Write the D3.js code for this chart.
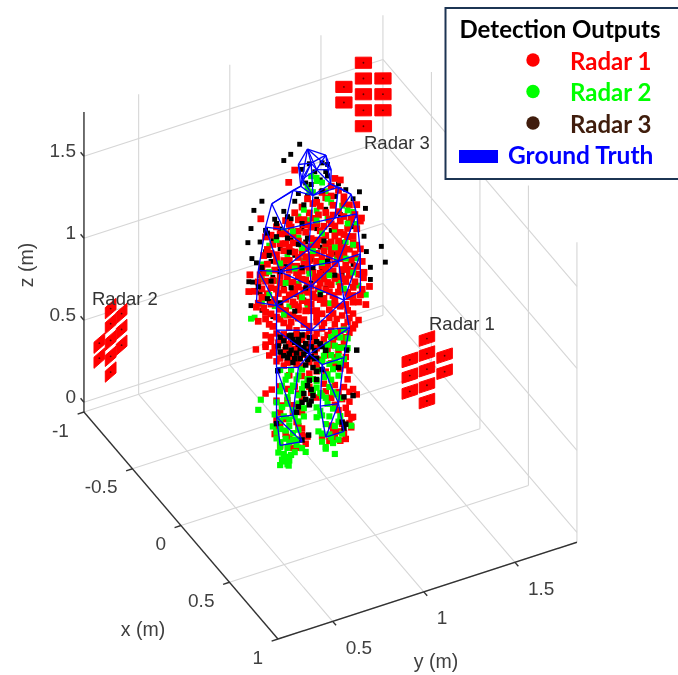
<!DOCTYPE html>
<html>
<head>
<meta charset="utf-8">
<script src="https://cdnjs.cloudflare.com/ajax/libs/d3/7.8.5/d3.min.js"></script>
<style>
  html, body { margin: 0; padding: 0; background: #fff; }
  svg { display: block; }
</style>
</head>
<body>
<div id="chart"></div>
<script>
const bodyX = -0.105;

const radar1Upper = [[1.10,1.66],[1.13,1.64],[1.08,1.62],[1.03,1.6],[1.12,1.58],[.98,1.55],[.92,1.55],[1.05,1.56],[1.15,1.53],[.88,1.53],[.96,1.5],[1.02,1.52],[1.09,1.5],[1.18,1.47],[.83,1.5],[.9,1.48],[.98,1.46],[1.05,1.47],[1.12,1.45],[.78,1.48],[.86,1.45],[.93,1.44],
  [.72,1.44],[.8,1.43],[1.0,1.42],[1.07,1.42],[1.15,1.41],[1.21,1.4],[.87,1.4],[.94,1.39],[.76,1.38],[1.02,1.37],[1.1,1.37],[1.18,1.36],[.83,1.36],[.9,1.35],[.97,1.34],[.71,1.33],[1.05,1.33],[1.13,1.32],[1.22,1.31],[.78,1.31],[.86,1.3],[.94,1.29],[1.0,1.29],[1.08,1.28],[1.17,1.28],[.73,1.27],[.82,1.26],[.9,1.25],[.97,1.24],[1.04,1.24],[1.12,1.23],[1.2,1.23],[.69,1.22],[.77,1.22],[.86,1.21],[.93,1.2],
  [1.0,1.19],[1.07,1.19],[1.15,1.18],[1.24,1.18],[.72,1.17],[.8,1.17],[.89,1.16],[.96,1.15],[1.03,1.15],[1.1,1.14],[1.19,1.13],[.66,1.13],[.75,1.12],[.84,1.12],[.92,1.11],[.99,1.1],[1.06,1.1],[1.14,1.09],[1.22,1.08],[.7,1.08],[.79,1.07],[.87,1.07],[.95,1.06],[1.02,1.05],[1.1,1.05],[1.18,1.04],[1.26,1.03],[.67,1.03],[.75,1.02],[.83,1.02],[.91,1.01],[.98,1.0],[1.05,1.0],[1.13,.99],[1.21,.99],[.72,.98],[.8,.97],[.88,.97],[.95,.96],[1.02,.95],[1.09,.95],[1.17,.94],[1.25,.93],[.68,.94],
  [.95,1.43],[1.08,1.39],[.85,1.33],[1.0,1.32],[1.15,1.3],[.92,1.27],[1.08,1.24],[.8,1.24],[1.18,1.2],[.95,1.18],[.85,1.19],[1.05,1.13],[.9,1.14],[1.16,1.11],[.78,1.1],[1.0,1.08],[.93,1.04],[1.08,1.02],[.85,1.04],[1.16,1.01],[.98,.98],[1.12,.96],[.9,.93],[1.04,.92],[1.2,.91],[.78,.93],[.84,.92],[.97,.9],[1.1,.89],[1.16,.87],[1.03,.86],[.9,.88],[.82,.88],[.74,.9],[1.23,.86],[1.27,.83],
  [.88,1.79],[.847,1.727],[.694,1.56],[.634,1.24],[.628,1.14],[1.22,1.457],[1.246,1.366],[1.29,.933],[1.257,.998],
  [.95,1.59],[1.0,1.55],[1.08,1.56],[1.15,1.49],[.85,1.47],[.93,1.47],[1.01,1.47],[1.09,1.44],[.75,1.44],[.83,1.42],[.9,1.41],[.97,1.41],[1.04,1.39],[1.13,1.39],[1.19,1.38],
  [.73,1.36],[.8,1.37],[.87,1.35],[.92,1.32],[1.03,1.31],[1.1,1.31],[1.17,1.33],[1.24,1.35],[.75,1.33],[.82,1.32],[.88,1.29],[.97,1.29],[1.05,1.28],[1.12,1.27],[1.2,1.27],[.7,1.26],[.78,1.27],[.85,1.25],[.94,1.24],[1.0,1.24],[1.08,1.21],[1.15,1.22],[1.22,1.21],[.72,1.22],[.81,1.21],[.89,1.2],[.96,1.21],[1.03,1.2],[1.12,1.19],
  [.68,1.18],[.76,1.16],[.84,1.15],[.92,1.16],[.98,1.13],[1.06,1.15],[1.13,1.16],[1.21,1.16],[.7,1.13],[.8,1.13],[.87,1.11],[.94,1.1],[1.02,1.11],[1.09,1.1],[1.17,1.08],[1.25,1.1],[.73,1.09],[.82,1.08],[.9,1.07],[.97,1.05],[1.04,1.07],[1.13,1.05],[1.2,1.06],[.68,1.05],[.77,1.04],[.88,1.04],[.95,1.02],[1.01,1.02],[1.06,1.04],[1.15,1.03],[1.23,1.03],
  [.71,1.01],[.8,1.0],[.87,.99],[.92,.98],[1.0,.97],[1.07,.98],[1.14,.97],[1.2,.96],[.75,.96],[.83,.95],[.9,.95],[.97,.94],[1.04,.95],[1.1,.92],[1.18,.91],[1.24,.9],[.72,.94],[.8,.91],[.87,.91],[.94,.91],[1.0,.89],[1.07,.87],[1.13,.87],[1.2,.87],[.76,.88],[.86,.87],[.93,.86],[1.0,.85],[1.09,.84],[1.17,.83]];

const radar1Lower = [[.72,.84],[.78,.83],[.85,.84],[.93,.83],[1.0,.82],[1.07,.82],[1.14,.81],[1.2,.8],[.75,.79],[.82,.79],[.89,.78],[.96,.78],[1.03,.77],[1.1,.77],[1.17,.76],[1.23,.75],[.77,.75],[.85,.74],[.92,.74],[.99,.73],[1.06,.72],[1.13,.72],[1.2,.71],[.74,.71],[.81,.7],[.88,.7],[.95,.69],[1.02,.68],[1.09,.68],[1.16,.67],[.78,.66],[.85,.66],[.92,.65],[.99,.64],[1.06,.63],[1.13,.62],[.82,.62],[.89,.6],[.96,.59],[1.03,.58],[1.1,.57],[1.16,.55],
  [.85,.55],[.92,.52],[1.0,.52],[1.05,.5],[1.13,.49],[1.18,.46],[.8,.5],[.88,.47],[.96,.44],[1.04,.43],[1.1,.4],[1.15,.37],[1.2,.34],[.78,.42],[.84,.4],[.92,.38],[1.0,.36],[1.08,.33],[1.14,.3],[1.18,.27],[.8,.34],[.87,.32],[.92,.3],
  [.8,.27],[.77,.22],[.83,.2],[.9,.22],[.92,.16],[.88,.14],[.8,.14],[.94,.1],[.9,.09],[1.12,.24],[1.17,.2],[1.08,.16],[1.14,.15],[1.19,.11],[1.1,.08],[1.16,.05],[1.07,.07],[1.12,.11],
  [.667,.773],[.72,.485],[.754,.497],[1.191,.169],[.72,.784],
  [.75,.82],[.82,.81],[.89,.81],[.96,.81],[1.04,.8],[1.11,.8],[1.18,.78],[.72,.77],[.79,.77],[.86,.76],[.94,.76],[1.0,.75],[1.08,.74],[1.15,.74],[1.21,.73],[.76,.72],[.83,.71],[.9,.7],[.97,.7],[1.04,.7],[1.11,.69],[1.18,.69],[.8,.67],[.87,.67],[.94,.67],[1.0,.66],[1.08,.65],[1.15,.64],[.84,.63],[.9,.63],[.96,.61],[1.05,.6],[1.12,.6],[.92,.58],[1.0,.56],[1.08,.54],[.96,.52],[1.1,.52],[1.16,.5],
  [.84,.47],[.9,.42],[.97,.4],[1.05,.38],[1.17,.41],[1.12,.35],[.81,.38],[.87,.36],[1.18,.33],[1.22,.3],[1.1,.28],[1.16,.24],[1.2,.17],[.78,.3],[.83,.29],[.89,.25],[.78,.25],[.85,.17],[.92,.2],[.95,.14],[.87,.1],[1.13,.05],[1.09,.12],[1.15,.09],[1.18,.14],[1.03,.11]];

const radar2Upper = [[.97,1.72],[1.0,1.68],[1.03,1.66],[.95,1.66],[1.05,1.6],[.98,1.62],[1.08,1.52],[1.0,1.5],[.9,1.5],[1.14,1.48],[.95,1.46],[1.2,1.42],[.82,1.44],[1.06,1.43],[.74,1.38],[.9,1.37],[1.1,1.34],[1.22,1.34],[.98,1.31],[.7,1.28],[.84,1.28],[1.05,1.26],[1.16,1.25],[.93,1.22],[.7,1.19],[.78,1.15],[1.11,1.17],[1.22,1.13],[.9,1.09],[1.03,1.07],[.7,1.05],[.77,1.0],[1.12,1.02],[1.23,.96],[.85,.97],[.95,.93],[1.07,.91],[.66,.97],[1.27,.89],[.64,.97]];

// these sit on top of the red in the torso
const radar2Top = [[1.0,1.7],[.96,1.63],[1.06,1.55],[.93,1.53],[1.17,1.44],[1.0,1.44],[.87,1.42],[.78,1.4],[1.03,1.35],[1.17,1.36],[.92,1.3],[.8,1.25],[.98,1.26],[1.1,1.24],[1.2,1.22],[.74,1.22],[.88,1.19],[1.03,1.17],[1.16,1.15],[.83,1.12],[.96,1.13],[1.07,1.08],[.74,1.08],[1.2,1.05],[.92,1.0],[1.02,.99],[1.15,.97],[.82,.93]];

const radar2Lower = [[1.08,.7],[1.13,.68],[1.17,.66],[1.1,.64],[1.05,.63],[1.15,.61],[1.08,.59],[1.12,.57],[1.03,.57],[1.07,.54],[1.15,.54],[1.01,.52],[1.09,.5],[.98,.48],[1.04,.47],[1.12,.45],[1.0,.42],[1.07,.4],[1.03,.36],[1.11,.34],[1.06,.3],[1.0,.3],[1.09,.26],[1.03,.24],[1.13,.2],[1.05,.18],[1.1,.15],[1.01,.15],[1.07,.11],[1.14,.09],[1.03,.08],[1.09,.05],[1.05,.04],[1.1,-.02],[1.05,.03],[1.19,.12],
  [.8,.6],[.86,.58],[.92,.56],[.83,.53],[.89,.51],[.95,.49],[.8,.47],[.86,.45],[.92,.44],[.98,.41],[.78,.41],[.84,.38],[.9,.36],[.96,.34],[.77,.34],[.82,.31],[.88,.29],[.93,.27],[.76,.27],[.8,.24],[.85,.24],[.9,.2],[.78,.19],[.83,.17],[.87,.15],[.8,.13],[.84,.11],[.89,.11],[.92,.08],[.82,.08],[.86,.06],[.81,.05],[.85,.03],[.8,.02],[.847,0],[.84,.04],[.94,.05],[.694,.457],[.68,.4],
  [1.1,.72],[1.15,.72],[1.06,.66],[1.12,.62],[1.17,.6],[1.04,.6],[1.1,.55],[1.13,.52],[1.06,.48],[1.0,.46],[1.08,.44],[1.02,.38],[1.09,.36],[1.05,.34],[1.13,.31],[1.02,.27],[1.07,.22],[1.12,.17],[1.03,.13],[1.08,.09],[1.12,.06],[1.0,.24],[.84,.55],[.9,.53],[.81,.5],[.87,.48],[.93,.47],[.84,.42],[.9,.41],[.81,.37],[.87,.33],[.93,.32],[.8,.29],[.85,.28],[.9,.25],[.78,.23],[.83,.22],[.87,.19],[.8,.16],[.85,.14],[.9,.14],[.83,.06],[.88,.07],[.79,.1],[.84,.01],[.82,.035]];

const radar3Upper = [[.96,1.8],[1.03,1.78],[.92,1.78],[1.06,1.76],[1.05,1.72],[.99,1.74],[1.02,1.68],[.94,1.69],[.9,1.64],[.95,1.61],[.88,1.6],[1.0,1.57],[.82,1.56],[1.1,1.55],[1.16,1.57],[.77,1.53],[.86,1.5],[1.05,1.49],[1.2,1.5],[.72,1.48],[.8,1.46],[.92,1.42],[1.13,1.43],[.69,1.42],[.76,1.41],[.86,1.38],[1.0,1.39],
  [.72,1.35],[.8,1.34],[.94,1.33],[1.08,1.35],[1.2,1.33],[.67,1.3],[.75,1.28],[.88,1.27],[1.02,1.27],[1.13,1.26],[1.26,1.25],[.7,1.24],[.83,1.22],[.97,1.21],[1.1,1.2],[.65,1.19],[.76,1.18],[.9,1.13],[1.03,1.12],[1.2,1.1],[.69,1.11],[.82,1.09],[.97,1.07],[1.14,1.06],[.64,1.05],[.74,1.04],[.88,1.03],[1.05,1.01],[1.24,1.02],[.7,1.0],[.82,.96],[.93,.98],[1.1,.93],[.76,.94],
  [.907,1.938],[.858,1.894],[.82,1.87],[.70,1.665],[.656,1.625],[.64,1.52],[.623,1.44],[.645,1.335],[1.235,1.53],[1.268,1.417],[1.355,1.154],[1.377,1.05],[1.273,1.152],[1.295,1.048],[1.295,.974],[1.12,1.62],[.628,1.2]];

const radar3Top = [[.78,1.42],[.95,1.35],[.74,1.32],[.85,1.3],[1.04,1.3],[.7,1.26],[.8,1.2],[.92,1.18],[1.06,1.17],[.68,1.15],[.86,1.08],[.94,1.05],[1.1,1.07],[.73,1.06],[.8,1.01],[1.02,.98],[.88,.93],[.75,1.16],[.9,1.33],[.84,1.39],[.98,1.16],[.92,1.45],[1.03,1.61],[.97,1.67],[.93,1.56],[1.06,1.69],[.78,1.5],[.84,1.52],[.73,1.46]];

const radar3Lower = [[.8,.8],[.85,.79],[.79,.75],[.87,.76],[.92,.77],[.83,.73],[.9,.72],[.96,.74],[.8,.71],[.86,.7],[.93,.69],[1.0,.7],[.89,.67],[.95,.66],[.84,.66],[.99,.65],[.91,.63],[.97,.62],[.87,.62],[1.03,.66],[1.0,.6],[.94,.58],[.98,.55],
  [.95,.45],[.97,.42],[.93,.41],[.94,.37],[.98,.38],[.9,.34],[.96,.33],[.89,.31],[1.0,.47],[1.03,.52],[1.22,.57],[1.165,.59],[1.2,.30],[1.12,.5],[.787,.60],[1.15,.31],[1.16,.14],[.956,.147],[.92,.13],[.78,.28],[1.15,.12],[1.14,.16],
  [.82,.77],[.88,.74],[.94,.71],[.85,.68],[.91,.69],[.97,.68],[.82,.68],[.88,.64],[.93,.65],[.99,.6],[.95,.61],[.86,.79],[.9,.75],[1.02,.68],[1.05,.63],[1.0,.52],[.96,.48],[.92,.36],[.97,.35]];

// ground truth mesh, [y, z] on the same plane
const meshNodes = [[.95,1.893],[1.05,1.82],[.9,1.817],[.97,1.8],[1.0,1.75],[.92,1.72],[.913,1.68],[1.077,1.634],[1.08,1.72],[.98,1.6],
  [.754,1.63],[.87,1.67],[1.19,1.53],[1.12,1.6],[.956,1.28],[.72,1.5],[.68,1.25],[.67,1.06],[1.22,1.4],[1.24,1.15],[1.24,.92],
  [.8,1.2],[1.12,1.15],[.78,1.0],[1.15,.9],[.97,1.05],[.78,.85],[1.18,.72],[.97,.78],[.96,.64],[.78,.62],[.9,.58],
  [.78,.32],[.87,.3],[.8,.14],[.92,.12],[1.15,.55],[1.03,.55],[1.12,.28],[1.02,.3],[1.15,.1],[1.05,.1],[.82,1.45],[1.1,1.42]];
const meshEdges = [[0,1],[0,2],[0,3],[0,4],[1,3],[1,4],[1,8],[2,3],[2,5],[3,4],[3,5],[4,5],[4,8],[5,6],[8,7],[4,7],[5,9],[6,9],[7,9],[6,11],[2,6],[1,7],[0,5],[0,8],[3,6],[3,9],
  [11,10],[6,10],[7,13],[13,12],[7,12],[9,13],[9,11],[10,15],[10,42],[11,42],[15,42],[15,16],[16,17],[15,21],[16,21],[17,23],[16,23],
  [12,18],[12,43],[13,43],[18,43],[18,19],[19,20],[18,22],[19,22],[20,24],[19,24],[42,14],[43,14],[9,14],[42,43],[14,21],[14,22],[14,25],
  [21,22],[21,23],[22,24],[21,25],[22,25],[23,25],[24,25],[23,26],[24,27],[25,28],[23,28],[24,28],[26,28],[27,28],[26,29],[27,29],[28,29],
  [26,30],[29,31],[30,31],[30,32],[31,33],[30,33],[32,33],[32,34],[33,35],[32,35],[34,35],[27,36],[29,37],[36,37],[36,38],[37,39],[37,38],[38,39],[38,40],[39,41],[38,41],[40,41]];

// panel centres of the three arrays, [x, y, z]
const radar1Panels = [[.6,1.23,1.125],[.6,1.23,1.033],[.6,1.23,.938],[.6,1.23,.84],[.6,1.23,.744],[.6,1.327,.985],[.6,1.327,.888],[.6,1.136,1.029],[.6,1.136,.933],[.6,1.136,.836]];
const radar2Panels = [[-.8,.24,.695],[-.8,.24,.603],[-.8,.24,.501],[-.8,.24,.404],[-.8,.24,.308],[-.8,.3,.643],[-.8,.3,.546],[-.8,.3,.45],[-.8,.178,.506],[-.8,.178,.415]];
const radar3Panels = [[-.5,1.467,1.96],[-.5,1.467,1.864],[-.5,1.467,1.768],[-.5,1.467,1.67],[-.5,1.467,1.573],[-.4566,1.551,1.864],[-.4566,1.551,1.768],[-.4566,1.551,1.67],[-.5434,1.383,1.813],[-.5434,1.383,1.718]];

const xTicks = [-1, -0.5, 0, 0.5, 1];
const yTicks = [0.5, 1, 1.5];
const zTicks = [0, 0.5, 1, 1.5];
const legendSeries = ["Radar 1", "Radar 2", "Radar 3"];
const legendColors = ["#ff0000", "#00ff00", "#3f1f0a"];

const width = 678, height = 675;
const xMin = -1, xMax = 1, yMin = 0.2, yMax = 1.84, zMin = -0.06, zMax = 1.77;

const svg = d3.select("#chart").append("svg")
    .attr("width", width)
    .attr("height", height)
    .style("font-family", "'Liberation Sans', Arial, sans-serif");

const defs = svg.append("defs");
const blurFilter = (id, amount) => defs.append("filter").attr("id", id)
    .attr("filterUnits", "userSpaceOnUse")
    .attr("x", 0).attr("y", 0).attr("width", width).attr("height", height)
    .append("feGaussianBlur").attr("stdDeviation", amount);
blurFilter("soft", 0.75);
blurFilter("softLegend", 0.35);

// oblique view, each data axis gets its own pair of scales
const pxX = d3.scaleLinear().domain([-1, 1]).range([47.5, 241.5]);
const pyX = d3.scaleLinear().domain([-1, 1]).range([414, 641]);
const pxY = d3.scaleLinear().domain([0, 1]).range([0, 182.3]);
const pyY = d3.scaleLinear().domain([0, 1]).range([0, -59]);
const pyZ = d3.scaleLinear().domain([0, 1]).range([0, -164]);

const project = ([x, y, z]) => [pxX(x) + pxY(y), pyX(x) + pyY(y) + pyZ(z)];
const line3 = d3.line().x(d => project(d)[0]).y(d => project(d)[1]);

const plot = svg.append("g").attr("filter", "url(#soft)");

// grid
const gridSegs = [];
zTicks.forEach(z => {
    gridSegs.push([[xMin, yMin, z], [xMin, yMax, z]]);
    gridSegs.push([[xMin, yMax, z], [xMax, yMax, z]]);
});
xTicks.forEach(x => {
    gridSegs.push([[x, yMin, zMin], [x, yMax, zMin]]);
    gridSegs.push([[x, yMax, zMin], [x, yMax, zMax]]);
});
yTicks.forEach(y => {
    gridSegs.push([[xMax, y, zMin], [xMin, y, zMin]]);
    gridSegs.push([[xMin, y, zMin], [xMin, y, zMax]]);
});
plot.append("g").selectAll("path")
    .data(gridSegs)
    .join("path")
    .attr("d", line3)
    .attr("fill", "none")
    .attr("stroke", "#d6d6d6")
    .attr("stroke-width", 1.1);

// axes
const axisSegs = [
    [[xMin, yMin, zMin], [xMin, yMin, zMax]],
    [[xMin, yMin, zMin], [xMax, yMin, zMin]],
    [[xMax, yMin, zMin], [xMax, yMax, zMin]]
];
xTicks.forEach(x => axisSegs.push([[x, yMin, zMin], [x, yMin - 0.035, zMin]]));
yTicks.forEach(y => axisSegs.push([[xMax, y, zMin], [xMax + 0.035, y, zMin]]));
zTicks.forEach(z => axisSegs.push([[xMin, yMin, z], [xMin - 0.035, yMin, z]]));
plot.append("g").selectAll("path")
    .data(axisSegs)
    .join("path")
    .attr("d", line3)
    .attr("fill", "none")
    .attr("stroke", "#333")
    .attr("stroke-width", 1.4);

const tickText = (sel, fmt) => sel
    .attr("font-size", 19)
    .attr("fill", "#404040")
    .attr("dominant-baseline", "central")
    .text(fmt);

plot.append("g").selectAll("text")
    .data(xTicks)
    .join("text")
    .attr("x", d => project([d, yMin, zMin])[0] - 15)
    .attr("y", d => project([d, yMin, zMin])[1] + 18)
    .attr("text-anchor", "end")
    .call(tickText, d => d);

plot.append("g").selectAll("text")
    .data(yTicks)
    .join("text")
    .attr("x", d => project([xMax, d, zMin])[0] + 13)
    .attr("y", d => project([xMax, d, zMin])[1] + 26)
    .attr("text-anchor", "start")
    .call(tickText, d => d);

plot.append("g").selectAll("text")
    .data(zTicks)
    .join("text")
    .attr("x", d => project([xMin, yMin, d])[0] - 8)
    .attr("y", d => project([xMin, yMin, d])[1] - 6)
    .attr("text-anchor", "end")
    .call(tickText, d => d);

const axisLabel = (txt, x, y, rot) => plot.append("text")
    .attr("transform", `translate(${x},${y}) rotate(${rot})`)
    .attr("text-anchor", "middle")
    .attr("dominant-baseline", "central")
    .attr("font-size", 19.5)
    .attr("fill", "#404040")
    .text(txt);
axisLabel("x (m)", 143, 629, 0);
axisLabel("y (m)", 436, 661, 0);
axisLabel("z (m)", 26, 265, -90);

// radar arrays, edge is the panel's long side in data units
const radars = [
    { name: "Radar 1", panels: radar1Panels, edge: [0, .085, 0], tall: .065, lx: 429, ly: 323 },
    { name: "Radar 2", panels: radar2Panels, edge: [-.04, .08, 0], tall: .068, lx: 92, ly: 298 },
    { name: "Radar 3", panels: radar3Panels, edge: [.036, .07, 0], tall: .068, lx: 364, ly: 142 }
];
radars.forEach(r => {
    const g = plot.append("g");
    const half = (c, sx, sz) => [c[0] + sx * r.edge[0] / 2, c[1] + sx * r.edge[1] / 2, c[2] + sz * r.tall / 2];
    g.selectAll("path")
        .data(r.panels)
        .join("path")
        .attr("d", c => line3([half(c, -1, -1), half(c, 1, -1), half(c, 1, 1), half(c, -1, 1), half(c, -1, -1)]))
        .attr("fill", "#ff0000")
        .attr("stroke", "#ff0000")
        .attr("stroke-width", 1)
        .attr("stroke-linejoin", "round");
    g.selectAll("circle")
        .data(r.panels)
        .join("circle")
        .attr("cx", c => project(c)[0])
        .attr("cy", c => project(c)[1])
        .attr("r", 0.9)
        .attr("fill", "#5a0000");
    plot.append("text")
        .attr("x", r.lx)
        .attr("y", r.ly)
        .attr("dominant-baseline", "central")
        .attr("font-size", 18.5)
        .attr("fill", "#333")
        .text(r.name);
});

// detections, drawn in the order they stack in the picture
const layers = [
    [radar3Upper, "#000000", 24],
    [radar2Upper, "#00ff00", 34],
    [radar1Upper, "#ff0000", 46],
    [radar2Top, "#00ff00", 34],
    [radar3Top, "#000000", 26],
    [radar1Lower, "#ff0000", 42],
    [radar2Lower, "#00ff00", 38],
    [radar3Lower, "#000000", 30]
];
layers.forEach(([pts, col, size]) => {
    const marker = d3.symbol().type(d3.symbolSquare).size(size);
    plot.append("g").selectAll("path")
        .data(pts)
        .join("path")
        .attr("d", marker)
        .attr("transform", d => {
            const p = project([bodyX, d[0], d[1]]);
            return `translate(${p[0]},${p[1]})`;
        })
        .attr("fill", col);
});

// ground truth
plot.append("g").selectAll("path")
    .data(meshEdges)
    .join("path")
    .attr("d", e => line3(e.map(i => [bodyX, meshNodes[i][0], meshNodes[i][1]])))
    .attr("fill", "none")
    .attr("stroke", "#0000ff")
    .attr("stroke-width", 1.3);

// legend
const legend = svg.append("g").attr("filter", "url(#softLegend)");
legend.append("rect")
    .attr("x", 445.5).attr("y", 8)
    .attr("width", 240).attr("height", 171)
    .attr("fill", "#fff")
    .attr("stroke", "#1f3552")
    .attr("stroke-width", 2);
legend.append("text")
    .attr("x", 560).attr("y", 28)
    .attr("text-anchor", "middle")
    .attr("dominant-baseline", "central")
    .attr("font-family", "Lato, 'Open Sans', sans-serif")
    .attr("font-weight", 700)
    .attr("font-size", 24)
    .attr("fill", "#000")
    .text("Detection Outputs");

const legendY = d3.scalePoint().domain(legendSeries).range([60, 123]);
const legendRows = legend.selectAll("g.row")
    .data(legendSeries)
    .join("g")
    .attr("class", "row")
    .attr("transform", d => `translate(0,${legendY(d)})`);
legendRows.append("circle")
    .attr("cx", 533)
    .attr("r", 6.7)
    .attr("fill", (d, i) => legendColors[i]);
legendRows.append("text")
    .attr("x", 570)
    .attr("dominant-baseline", "central")
    .attr("font-family", "Lato, 'Open Sans', sans-serif")
    .attr("font-weight", 700)
    .attr("font-size", 24)
    .attr("fill", (d, i) => legendColors[i])
    .text(d => d);

legend.append("rect")
    .attr("x", 459).attr("y", 150)
    .attr("width", 39).attr("height", 13)
    .attr("fill", "#0000ff");
legend.append("text")
    .attr("x", 508).attr("y", 154)
    .attr("dominant-baseline", "central")
    .attr("font-family", "Lato, 'Open Sans', sans-serif")
    .attr("font-weight", 700)
    .attr("font-size", 24.5)
    .attr("fill", "#0000ff")
    .text("Ground Truth");
</script>
</body>
</html>
